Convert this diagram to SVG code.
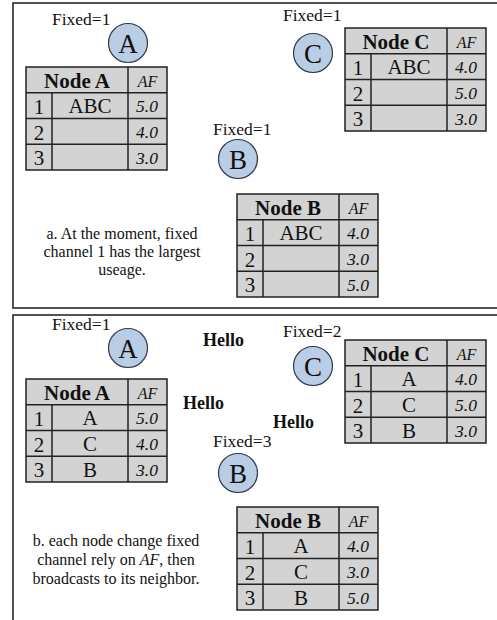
<svg xmlns="http://www.w3.org/2000/svg" width="497" height="620" viewBox="0 0 497 620">
<style>
text{font-family:"Liberation Serif","Times New Roman",serif;fill:#111}
.panel{fill:#fff;stroke:#1a1a1a;stroke-width:1.5}
.tbl{fill:#d3d3d3;stroke:#222;stroke-width:1.5}
.ln{stroke:#222;stroke-width:1.5}
.nd{fill:#b9cde5;stroke:#2e3b4c;stroke-width:1.2}
.ndl{font-size:27px;text-anchor:middle}
.fx{font-size:17.5px}
.hd{font-size:21px;font-weight:bold;text-anchor:middle}
.af{font-size:16px;font-style:italic;text-anchor:middle}
.dg{font-size:21px;text-anchor:middle}
.cl{font-size:21px;text-anchor:middle}
.vl{font-size:17.5px;font-style:italic;text-anchor:middle}
.cap{font-size:16px;text-anchor:middle}
.hello{font-size:18px;font-weight:bold}
</style>
<defs>
<g id="grid">
<rect class="tbl" x="0" y="0" width="141" height="103"/>
<line class="ln" x1="102" y1="0" x2="102" y2="103"/>
<line class="ln" x1="26" y1="25.75" x2="26" y2="103"/>
<line class="ln" x1="0" y1="25.75" x2="141" y2="25.75"/>
<line class="ln" x1="0" y1="51.5" x2="141" y2="51.5"/>
<line class="ln" x1="0" y1="77.25" x2="141" y2="77.25"/>
</g>
</defs>
<rect width="497" height="620" fill="#fff"/>
<g id="panel-a">
<rect class="panel" x="13" y="3" width="500" height="305"/>
</g>
<g id="panel-b">
<rect class="panel" x="13" y="315" width="500" height="320"/>
</g>
<g id="connectors"></g>

<!-- Panel a -->
<g id="nodeA-a">
<text class="fx" x="52" y="25">Fixed=1</text>
<circle class="nd" cx="128" cy="43" r="19.5"/>
<text class="ndl" x="128" y="52.5">A</text>
</g>
<g id="tableA-a" transform="translate(26,67)">
<use href="#grid"/>
<text class="hd" x="51" y="20.5">Node A</text>
<text class="af" x="121.5" y="20">AF</text>
<text class="dg" x="13" y="46.5">1</text><text class="cl" x="64" y="46">ABC</text><text class="vl" x="121" y="45">5.0</text>
<text class="dg" x="13" y="72.5">2</text><text class="vl" x="121" y="71">4.0</text>
<text class="dg" x="13" y="98">3</text><text class="vl" x="121" y="96.5">3.0</text>
</g>
<g id="nodeC-a">
<text class="fx" x="283" y="21">Fixed=1</text>
<circle class="nd" cx="313" cy="53" r="19.5"/>
<text class="ndl" x="313" y="62.5">C</text>
</g>
<g id="tableC-a" transform="translate(345,28)">
<use href="#grid"/>
<text class="hd" x="51" y="20.5">Node C</text>
<text class="af" x="121.5" y="20">AF</text>
<text class="dg" x="13" y="46.5">1</text><text class="cl" x="64" y="46">ABC</text><text class="vl" x="121" y="45">4.0</text>
<text class="dg" x="13" y="72.5">2</text><text class="vl" x="121" y="71">5.0</text>
<text class="dg" x="13" y="98">3</text><text class="vl" x="121" y="96.5">3.0</text>
</g>
<g id="nodeB-a">
<text class="fx" x="213" y="135">Fixed=1</text>
<circle class="nd" cx="238" cy="159" r="19.5"/>
<text class="ndl" x="238" y="168.5">B</text>
</g>
<g id="tableB-a" transform="translate(237,194)">
<use href="#grid"/>
<text class="hd" x="51" y="20.5">Node B</text>
<text class="af" x="121.5" y="20">AF</text>
<text class="dg" x="13" y="46.5">1</text><text class="cl" x="64" y="46">ABC</text><text class="vl" x="121" y="45">4.0</text>
<text class="dg" x="13" y="72.5">2</text><text class="vl" x="121" y="71">3.0</text>
<text class="dg" x="13" y="98">3</text><text class="vl" x="121" y="96.5">5.0</text>
</g>
<g id="caption-a">
<text class="cap" x="122" y="239">a. At the moment, fixed</text>
<text class="cap" x="122" y="257">channel 1 has the largest</text>
<text class="cap" x="122" y="275">useage.</text>
</g>

<!-- Panel b -->
<g id="nodeA-b">
<text class="fx" x="52" y="330">Fixed=1</text>
<circle class="nd" cx="128" cy="348" r="19.5"/>
<text class="ndl" x="128" y="357.5">A</text>
</g>
<g id="tableA-b" transform="translate(26,379)">
<use href="#grid"/>
<text class="hd" x="51" y="20.5">Node A</text>
<text class="af" x="121.5" y="20">AF</text>
<text class="dg" x="13" y="46.5">1</text><text class="cl" x="64" y="46">A</text><text class="vl" x="121" y="45">5.0</text>
<text class="dg" x="13" y="72.5">2</text><text class="cl" x="64" y="72">C</text><text class="vl" x="121" y="71">4.0</text>
<text class="dg" x="13" y="98">3</text><text class="cl" x="64" y="97.5">B</text><text class="vl" x="121" y="96.5">3.0</text>
</g>
<g id="nodeC-b">
<text class="fx" x="283" y="337">Fixed=2</text>
<circle class="nd" cx="313" cy="366" r="19.5"/>
<text class="ndl" x="313" y="375.5">C</text>
</g>
<g id="tableC-b" transform="translate(345,340)">
<use href="#grid"/>
<text class="hd" x="51" y="20.5">Node C</text>
<text class="af" x="121.5" y="20">AF</text>
<text class="dg" x="13" y="46.5">1</text><text class="cl" x="64" y="46">A</text><text class="vl" x="121" y="45">4.0</text>
<text class="dg" x="13" y="72.5">2</text><text class="cl" x="64" y="72">C</text><text class="vl" x="121" y="71">5.0</text>
<text class="dg" x="13" y="98">3</text><text class="cl" x="64" y="97.5">B</text><text class="vl" x="121" y="96.5">3.0</text>
</g>
<g id="nodeB-b">
<text class="fx" x="213" y="447">Fixed=3</text>
<circle class="nd" cx="238" cy="473" r="19.5"/>
<text class="ndl" x="238" y="482.5">B</text>
</g>
<g id="tableB-b" transform="translate(237,507)">
<use href="#grid"/>
<text class="hd" x="51" y="20.5">Node B</text>
<text class="af" x="121.5" y="20">AF</text>
<text class="dg" x="13" y="46.5">1</text><text class="cl" x="64" y="46">A</text><text class="vl" x="121" y="45">4.0</text>
<text class="dg" x="13" y="72.5">2</text><text class="cl" x="64" y="72">C</text><text class="vl" x="121" y="71">3.0</text>
<text class="dg" x="13" y="98">3</text><text class="cl" x="64" y="97.5">B</text><text class="vl" x="121" y="96.5">5.0</text>
</g>
<g id="hello-labels">
<text class="hello" x="203" y="346">Hello</text>
<text class="hello" x="183" y="409">Hello</text>
<text class="hello" x="273" y="428">Hello</text>
</g>
<g id="caption-b">
<text class="cap" x="116" y="546">b. each node change fixed</text>
<text class="cap" x="116" y="565">channel rely on <tspan font-style="italic">AF</tspan>, then</text>
<text class="cap" x="116" y="584">broadcasts to its neighbor.</text>
</g>
</svg>
